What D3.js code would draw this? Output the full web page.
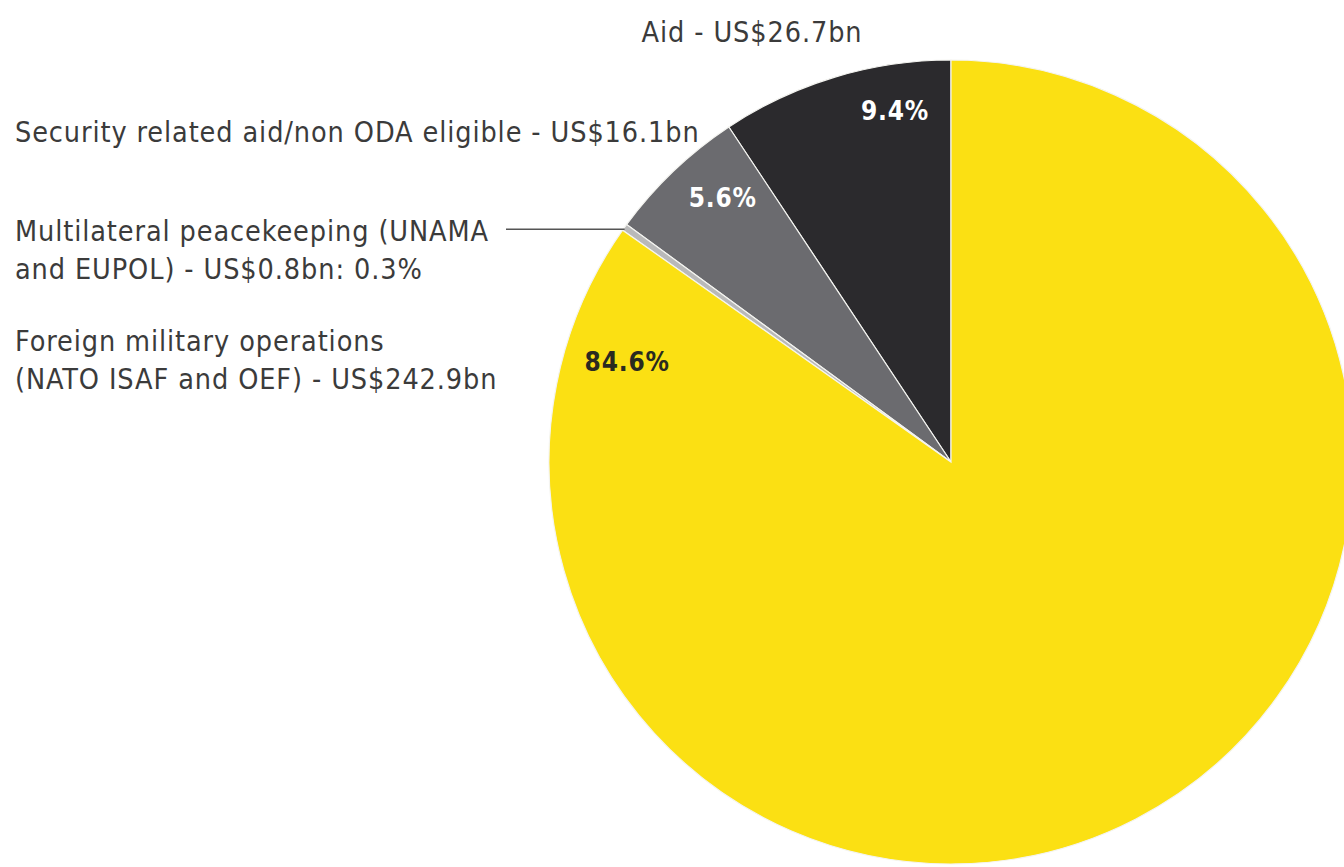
<!DOCTYPE html>
<html lang="en">
<head>
<meta charset="UTF-8">
<title>Spending in Afghanistan</title>
<style>
  html, body { margin: 0; padding: 0; background: #fff; }
  svg { display: block; }
</style>
</head>
<body>
<svg width="1344" height="867"></svg>
<script src="https://cdn.jsdelivr.net/npm/d3@7"></script>
<script>
// data, in the order the slices run anticlockwise from 12 o'clock
const categories = ["Aid", "Security related aid/non ODA eligible", "Multilateral peacekeeping (UNAMA and EUPOL)", "Foreign military operations (NATO ISAF and OEF)"];
const amounts = [26.7, 16.1, 0.8, 242.9];
const shares = ["9.4%", "5.6%", "0.3%", "84.6%"];
const colors = ["#2b2a2d", "#6b6b6f", "#b9b9b9", "#fbe013"];

const width = 1344, height = 867;
const cx = 951, cy = 462, radius = 402;
const font = "'DejaVu Sans Condensed', 'Liberation Sans Narrow', sans-serif";
const ink = "#3b3b3b";

const svg = d3.select("svg")
    .style("font-family", font);

const pie = d3.pie()
    .sort(null)
    .startAngle(0)
    .endAngle(-2 * Math.PI)
    .value(d => d);

const arcs = pie(amounts);

const arc = d3.arc()
    .innerRadius(0)
    .outerRadius(radius);

const g = svg.append("g")
    .attr("transform", `translate(${cx},${cy})`);

g.selectAll("path")
    .data(arcs)
    .enter().append("path")
    .attr("d", arc)
    .attr("fill", (d, i) => colors[i])
    .attr("stroke", "#f4f4f0")
    .attr("stroke-width", 1.2);

// percentage labels inside the slices (radius, fraction of the slice from its start)
const inLabels = [
    {i: 0, r: 356, t: 0.27, fill: "#fff"},
    {i: 1, r: 349, t: 0.36, fill: "#fff"},
    {i: 3, r: 339, t: 0.059, fill: "#2a2a20"}
];
g.selectAll("text.pct")
    .data(inLabels)
    .enter().append("text")
    .attr("class", "pct")
    .attr("transform", d => {
        const a = arcs[d.i];
        const ang = a.startAngle + (a.endAngle - a.startAngle) * d.t;
        return `translate(${Math.sin(ang) * d.r},${-Math.cos(ang) * d.r})`;
    })
    .attr("text-anchor", "middle")
    .attr("dy", "0.36em")
    .style("font-size", "26px")
    .style("font-weight", "bold")
    .style("letter-spacing", "0.8px")
    .attr("fill", d => d.fill)
    .text(d => shares[d.i]);

// outside labels
const outside = [
    {lines: [`${categories[0]} - US$${amounts[0]}bn`], x: 752, y: 42, anchor: "middle"},
    {lines: [`${categories[1]} - US$${amounts[1]}bn`], x: 15, y: 142, anchor: "start"},
    {lines: ["Multilateral peacekeeping (UNAMA", `and EUPOL) - US$${amounts[2]}bn: ${shares[2]}`], x: 15, y: 241, anchor: "start"},
    {lines: ["Foreign military operations", `(NATO ISAF and OEF) - US$${amounts[3]}bn`], x: 15, y: 351, anchor: "start"}
];

const lab = svg.append("g")
    .attr("fill", ink)
    .style("font-size", "28.5px")
    .style("letter-spacing", "0.9px");

outside.forEach(o => {
    const t = lab.append("text")
        .attr("x", o.x)
        .attr("y", o.y)
        .attr("text-anchor", o.anchor);
    o.lines.forEach((l, k) => {
        t.append("tspan")
            .attr("x", o.x)
            .attr("dy", k ? 38 : 0)
            .text(l);
    });
});

// leader line to the thin peacekeeping slice
const pk = arcs[2];
const pkAng = (pk.startAngle + pk.endAngle) / 2;
const px = cx + Math.sin(pkAng) * radius;
const py = cy - Math.cos(pkAng) * radius;
svg.append("line")
    .attr("x1", 506)
    .attr("x2", px)
    .attr("y1", py + 2)
    .attr("y2", py + 2)
    .attr("stroke", "#555")
    .attr("stroke-width", 1.5);
</script>
</body>
</html>
